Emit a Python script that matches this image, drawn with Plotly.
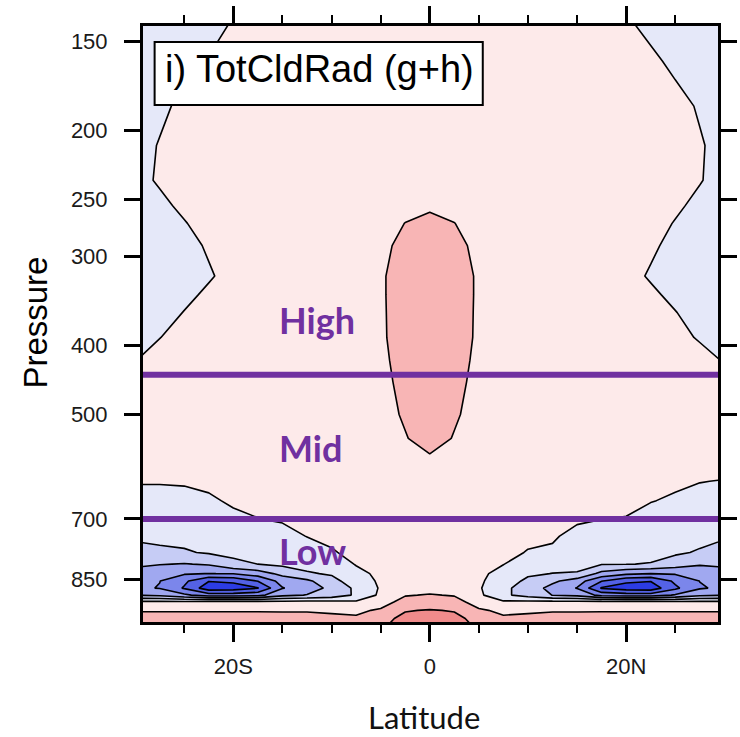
import math
import plotly.graph_objects as go

# Latitude grid (degrees, negative = south) and pressure levels (hPa)
latitudes = [-30.0, -27.5, -25.0, -22.5, -20.0, -17.5, -15.0, -12.5, -10.0, -7.5, -5.0, -2.5,
             0.0, 2.5, 5.0, 7.5, 10.0, 12.5, 15.0, 17.5, 20.0, 22.5, 25.0, 27.5, 30.0]
pressure_levels = [140, 160, 185, 210, 235, 255, 270, 290, 320, 340, 360, 390, 420, 450, 500,
                   540, 580, 620, 660, 700, 740, 780, 810, 835, 855, 875, 895, 915, 940, 965, 990]

# Total cloud-radiative heating anomaly (g+h), one row per pressure level
totcldrad = [
    [-0.45, -0.45, -0.45, -0.35, 0.03, 0.4, 0.4, 0.4, 0.4, 0.4, 0.4, 0.4, 0.4, 0.4, 0.4, 0.4, 0.4, 0.4, 0.4, 0.4, 0.08, -0.3, -0.45, -0.45, -0.45],
    [-0.45, -0.45, -0.33, 0.05, 0.4, 0.4, 0.4, 0.4, 0.4, 0.4, 0.4, 0.4, 0.4, 0.4, 0.4, 0.4, 0.4, 0.4, 0.4, 0.4, 0.4, 0.18, -0.2, -0.45, -0.45],
    [-0.45, -0.18, 0.2, 0.4, 0.4, 0.4, 0.4, 0.4, 0.4, 0.4, 0.4, 0.4, 0.4, 0.4, 0.4, 0.4, 0.4, 0.4, 0.4, 0.4, 0.4, 0.4, 0.28, -0.09, -0.45],
    [-0.33, 0.05, 0.4, 0.4, 0.4, 0.4, 0.4, 0.4, 0.4, 0.4, 0.4, 0.4, 0.4, 0.4, 0.4, 0.4, 0.4, 0.4, 0.4, 0.4, 0.4, 0.4, 0.4, 0.08, -0.3],
    [-0.27, 0.1, 0.4, 0.4, 0.4, 0.4, 0.4, 0.4, 0.4, 0.4, 0.4, 0.4, 0.4, 0.4, 0.4, 0.4, 0.4, 0.4, 0.4, 0.4, 0.4, 0.4, 0.4, 0.05, -0.33],
    [-0.45, -0.2, 0.18, 0.4, 0.4, 0.4, 0.4, 0.4, 0.4, 0.4, 0.45, 0.6, 0.7, 0.6, 0.45, 0.4, 0.4, 0.4, 0.4, 0.4, 0.4, 0.4, 0.15, -0.22, -0.45],
    [-0.45, -0.42, -0.05, 0.33, 0.4, 0.4, 0.4, 0.4, 0.4, 0.4, 0.5, 1.02, 1.5, 1.02, 0.5, 0.4, 0.4, 0.4, 0.4, 0.4, 0.4, 0.33, -0.05, -0.42, -0.45],
    [-0.45, -0.45, -0.27, 0.1, 0.4, 0.4, 0.4, 0.4, 0.4, 0.4, 0.65, 1.4, 1.7, 1.4, 0.65, 0.4, 0.4, 0.4, 0.4, 0.4, 0.4, 0.14, -0.24, -0.45, -0.45],
    [-0.45, -0.45, -0.45, -0.09, 0.28, 0.4, 0.4, 0.4, 0.4, 0.4, 0.85, 1.55, 1.8, 1.55, 0.85, 0.4, 0.4, 0.4, 0.4, 0.4, 0.28, -0.09, -0.45, -0.45, -0.45],
    [-0.45, -0.45, -0.21, 0.16, 0.4, 0.4, 0.4, 0.4, 0.4, 0.4, 0.85, 1.55, 1.8, 1.55, 0.85, 0.4, 0.4, 0.4, 0.4, 0.4, 0.4, 0.16, -0.21, -0.45, -0.45],
    [-0.45, -0.35, 0.03, 0.4, 0.4, 0.4, 0.4, 0.4, 0.4, 0.4, 0.85, 1.5, 1.8, 1.5, 0.85, 0.4, 0.4, 0.4, 0.4, 0.4, 0.4, 0.4, 0.03, -0.35, -0.45],
    [-0.39, -0.02, 0.36, 0.4, 0.4, 0.4, 0.4, 0.4, 0.4, 0.4, 0.85, 1.45, 1.75, 1.45, 0.85, 0.4, 0.4, 0.4, 0.4, 0.4, 0.4, 0.4, 0.28, -0.09, -0.45],
    [-0.02, 0.36, 0.4, 0.4, 0.4, 0.4, 0.4, 0.4, 0.4, 0.4, 0.8, 1.35, 1.7, 1.35, 0.8, 0.4, 0.4, 0.4, 0.4, 0.4, 0.4, 0.4, 0.4, 0.32, -0.06],
    [0.3, 0.4, 0.4, 0.4, 0.4, 0.4, 0.4, 0.4, 0.4, 0.4, 0.75, 1.25, 1.65, 1.25, 0.75, 0.4, 0.4, 0.4, 0.4, 0.4, 0.4, 0.4, 0.4, 0.4, 0.3],
    [0.35, 0.4, 0.4, 0.4, 0.4, 0.4, 0.4, 0.4, 0.4, 0.4, 0.7, 1.1, 1.55, 1.1, 0.7, 0.4, 0.4, 0.4, 0.4, 0.4, 0.4, 0.4, 0.4, 0.4, 0.35],
    [0.35, 0.4, 0.4, 0.4, 0.4, 0.4, 0.4, 0.4, 0.4, 0.4, 0.6, 0.95, 1.35, 0.95, 0.6, 0.4, 0.4, 0.4, 0.4, 0.4, 0.4, 0.4, 0.4, 0.4, 0.35],
    [0.3, 0.3, 0.3, 0.35, 0.35, 0.38, 0.4, 0.4, 0.4, 0.4, 0.55, 0.7, 0.85, 0.7, 0.55, 0.45, 0.4, 0.4, 0.4, 0.4, 0.38, 0.38, 0.35, 0.32, 0.3],
    [0.05, 0.04, 0.06, 0.15, 0.25, 0.3, 0.32, 0.35, 0.38, 0.4, 0.45, 0.5, 0.55, 0.5, 0.45, 0.42, 0.38, 0.36, 0.33, 0.3, 0.28, 0.22, 0.13, 0.02, -0.03],
    [-0.25, -0.2, -0.18, -0.1, 0.1, 0.15, 0.2, 0.25, 0.3, 0.35, 0.4, 0.45, 0.45, 0.45, 0.4, 0.38, 0.3, 0.28, 0.22, 0.15, 0.12, 0.03, -0.1, -0.22, -0.3],
    [-0.5, -0.45, -0.4, -0.35, -0.15, -0.01, 0.08, 0.15, 0.2, 0.3, 0.38, 0.42, 0.42, 0.42, 0.38, 0.32, 0.22, 0.18, 0.1, 0.01, -0.02, -0.25, -0.35, -0.45, -0.55],
    [-0.85, -0.75, -0.7, -0.6, -0.5, -0.35, -0.25, 0.02, 0.12, 0.25, 0.35, 0.42, 0.42, 0.42, 0.35, 0.25, 0.12, 0.08, -0.2, -0.35, -0.4, -0.55, -0.65, -0.7, -0.9],
    [-1.3, -1.2, -1.1, -0.9, -0.8, -0.7, -0.6, -0.4, -0.05, 0.15, 0.3, 0.42, 0.42, 0.42, 0.3, 0.15, -0.03, -0.1, -0.55, -0.7, -0.75, -0.7, -0.85, -1.1, -1.35],
    [-1.8, -1.95, -2.05, -1.9, -1.2, -1.0, -0.8, -0.7, -0.5, 0.05, 0.25, 0.45, 0.45, 0.45, 0.25, 0.02, -0.45, -0.6, -0.8, -0.95, -0.97, -1.05, -1.5, -1.9, -1.8],
    [-2.4, -2.7, -2.9, -3.02, -2.95, -2.5, -1.7, -1.1, -0.9, -0.25, 0.2, 0.5, 0.5, 0.5, 0.2, -0.3, -0.85, -1.02, -1.05, -2.3, -2.8, -2.98, -2.9, -2.7, -2.4],
    [-2.8, -2.98, -3.8, -4.95, -4.8, -3.95, -2.6, -2.2, -1.3, -0.5, 0.15, 0.55, 0.6, 0.55, 0.15, -0.5, -1.2, -1.8, -2.5, -3.95, -4.8, -4.95, -3.8, -2.98, -2.8],
    [-2.8, -3.05, -4.1, -5.6, -5.5, -5.05, -3.05, -2.5, -1.75, -0.8, 0.1, 0.65, 0.75, 0.65, 0.1, -0.75, -1.5, -2.3, -3.05, -5.1, -5.5, -5.6, -4.2, -3.1, -2.8],
    [-2.05, -2.2, -2.8, -3.5, -3.5, -3.3, -2.3, -1.95, -1.6, -0.85, 0.2, 0.95, 1.05, 0.95, 0.2, -0.8, -1.4, -2.02, -2.3, -3.3, -3.5, -3.5, -2.9, -2.2, -2.05],
    [0.2, 0.2, 0.2, 0.3, 0.3, 0.3, 0.3, 0.3, 0.25, 0.15, 0.65, 1.3, 1.5, 1.3, 0.65, 0.15, 0.25, 0.3, 0.3, 0.3, 0.3, 0.3, 0.2, 0.2, 0.2],
    [0.95, 0.95, 0.95, 0.95, 0.95, 0.95, 0.95, 0.95, 0.9, 0.85, 1.1, 1.95, 2.05, 1.95, 1.1, 0.85, 0.9, 0.95, 0.95, 0.95, 0.95, 0.95, 0.95, 0.95, 0.95],
    [1.25, 1.25, 1.25, 1.25, 1.25, 1.25, 1.2, 1.2, 1.15, 1.1, 1.75, 2.2, 2.4, 2.2, 1.75, 1.1, 1.15, 1.2, 1.2, 1.25, 1.25, 1.25, 1.25, 1.25, 1.25],
    [1.4, 1.4, 1.4, 1.4, 1.4, 1.35, 1.3, 1.3, 1.25, 1.25, 1.9, 2.3, 2.5, 2.3, 1.9, 1.25, 1.25, 1.3, 1.3, 1.35, 1.4, 1.4, 1.4, 1.4, 1.4],
]

# Cloud-height class boundaries (hPa) and their labels
cloud_bounds = [440, 700]
cloud_classes = ["High", "Mid", "Low"]
cloud_label_levels = [369, 557, 776]

pressure_ticks = [150, 200, 250, 300, 400, 500, 700, 850]
lat_ticks = [-20, 0, 20]
lat_ticktext = ["20S", "0", "20N"]
lat_minor = [-25, -15, -10, -5, 5, 10, 15, 25]
lat_range = [-29.2, 29.35]

# Fill colours, lowest band (< -6) to highest band (> 2)
band_colors = ["#1626c0", "#2c3ce4", "#5462e6", "#7b86eb", "#a0a8f0",
               "#c6ccf5", "#e5e8f9", "#fdeaea", "#f8b5b5", "#f08b8b"]
colorscale = [[k / (len(band_colors) - 1), c] for k, c in enumerate(band_colors)]

W, H = 740, 737
PL, PR, PT, PB = 143, 737, 26, 622


def px_x(px):
    return (px - PL) / (PR - PL)


def px_y(py):
    return (PB - py) / (PB - PT)


fig = go.Figure()
fig.add_trace(go.Contour(
    x=latitudes, y=pressure_levels, z=totcldrad,
    contours=dict(start=-6, end=2, size=1, coloring="fill", showlines=True),
    line=dict(color="black", width=1.6, smoothing=0),
    colorscale=colorscale, showscale=False, hoverinfo="skip",
))

# Cloud-class boundaries drawn across the full latitude range
PURPLE = "#7030a0"
for p in cloud_bounds:
    fig.add_trace(go.Scatter(x=lat_range, y=[p, p], mode="lines",
                             line=dict(color=PURPLE, width=6),
                             hoverinfo="skip", showlegend=False))

# Panel label box
shapes = [dict(type="rect", xref="paper", yref="paper",
               x0=px_x(155), x1=px_x(494), y0=px_y(105), y1=px_y(42),
               fillcolor="white", line=dict(color="black", width=2), layer="above")]

annotations = [
    dict(text="i) TotCldRad (g+h)", xref="paper", yref="paper", x=px_x(325), y=px_y(69),
         xanchor="center", yanchor="middle", showarrow=False,
         font=dict(family="Liberation Sans, Arial", size=38, color="black")),
    dict(text="Pressure", xref="paper", yref="paper", x=px_x(31), y=px_y(323),
         xanchor="center", yanchor="middle", textangle=-90, showarrow=False,
         font=dict(family="Liberation Sans, Arial", size=33, color="black")),
    dict(text="Latitude", xref="paper", yref="paper", x=px_x(433), y=px_y(717),
         xanchor="center", yanchor="middle", showarrow=False,
         font=dict(family="Lato", size=31, color="#111111")),
]
for name, lev in zip(cloud_classes, cloud_label_levels):
    annotations.append(dict(text=name, xref="paper", yref="y", x=px_x(281), y=math.log10(lev),
                            xanchor="left", yanchor="middle", showarrow=False,
                            font=dict(family="Lato", size=36, color=PURPLE, weight="bold")))

tickfont = dict(family="Liberation Sans, Arial", size=22, color="#1a1a1a")
fig.update_layout(
    width=W, height=H,
    margin=dict(l=PL, r=W - PR, t=PT, b=H - PB),
    paper_bgcolor="white", plot_bgcolor="white",
    shapes=shapes, annotations=annotations, showlegend=False,
    xaxis=dict(range=lat_range, tickvals=lat_ticks, ticktext=lat_ticktext,
               ticks="outside", ticklen=17, tickwidth=3, tickcolor="black",
               showline=True, linewidth=3, linecolor="black", mirror="allticks",
               showgrid=False, zeroline=False, tickfont=tickfont, ticklabelstandoff=6,
               minor=dict(tickvals=lat_minor, ticks="outside", ticklen=8, tickwidth=2,
                          tickcolor="black", showgrid=False)),
    yaxis=dict(type="log", range=[math.log10(976), math.log10(142.9)],
               tickvals=pressure_ticks, ticktext=[str(v) for v in pressure_ticks],
               ticks="outside", ticklen=16, tickwidth=3, tickcolor="black",
               showline=True, linewidth=3, linecolor="black", mirror="allticks",
               showgrid=False, zeroline=False, tickfont=tickfont, ticklabelstandoff=12),
)

fig.write_html("out.html")
